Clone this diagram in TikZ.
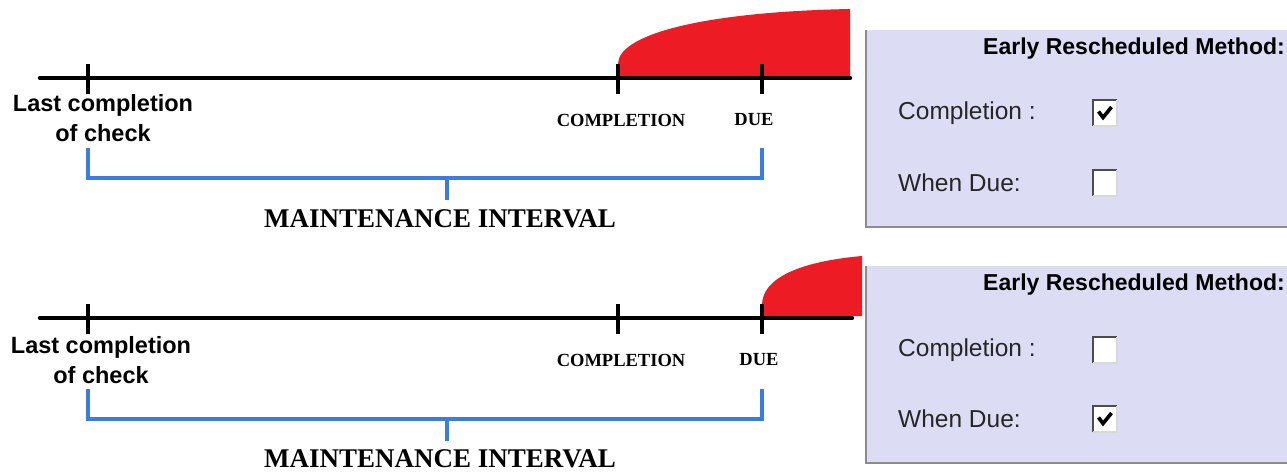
\documentclass[tikz,border=0pt]{standalone}
\usepackage{fontspec}
\setmainfont{Liberation Serif}
\setsansfont{Liberation Sans}
\definecolor{redfill}{HTML}{ED1C24}
\definecolor{bracketblue}{HTML}{3C7BE0}
\definecolor{panelfill}{HTML}{DCDCF4}
\definecolor{panelborder}{HTML}{8C8C8C}
\begin{document}
\begin{tikzpicture}[x=1pt,y=-1pt,
  timeline/.style={line width=4.5pt,line cap=round},
  tickmark/.style={line width=4.5pt},
  bracket/.style={draw=bracketblue,line width=3.4pt},
  lastlbl/.style={font=\sffamily\bfseries\fontsize{23.5}{30}\selectfont,align=center,inner sep=0pt},
  tlbl/.style={font=\rmfamily\bfseries\fontsize{18.5}{20}\selectfont,inner sep=0pt},
  intlbl/.style={font=\rmfamily\bfseries\fontsize{27}{30}\selectfont,inner sep=0pt},
  titlelbl/.style={font=\sffamily\bfseries\fontsize{23}{26}\selectfont,inner sep=0pt,anchor=east},
  optlbl/.style={font=\sffamily\fontsize{24.5}{26}\selectfont,inner sep=0pt,anchor=west,text=black!85},
  cbox/.style={draw=none,fill=white,minimum width=24pt,minimum height=26pt,inner sep=0pt}
]
\useasboundingbox (0,0) rectangle (1287,471);

% ---------- TOP ----------
\fill[redfill] (618,76) -- (618,64) .. controls (618,35) and (700,12) .. (850,9) -- (850,76) -- cycle;
\coordinate (t1a) at (40,78);
\coordinate (t1b) at (850,78);
\draw[timeline] (t1a) -- (t1b);
\foreach \n/\x in {l/88,c/618,d/762}{
  \coordinate (t1\n top) at (\x,64);
  \coordinate (t1\n bot) at (\x,94);
  \draw[tickmark] (t1\n top) -- (t1\n bot);
}
\node[lastlbl] (last1) at (103,118) {Last completion\\of check};
\node[tlbl] (comp1) at (621,120) {COMPLETION};
\node[tlbl] (due1) at (754,120) {DUE};
\coordinate (b1l) at (88,148);
\coordinate (b1r) at (762,148);
\coordinate (b1m) at (447,178);
\coordinate (b1mt) at (447,200);
\draw[bracket] (b1l) |- (b1m) -| (b1r);
\draw[bracket] (b1m) -- (b1mt);
\node[intlbl] (int1) at (440,219) {MAINTENANCE INTERVAL};

% panel top
\fill[panelfill] (865,30) rectangle (1287,228);
\draw[panelborder,line width=2pt] (866,30) -- (866,227) -- (1287,227);
\node[titlelbl] (title1) at (1285,49) {Early Rescheduled Method:};
\node[optlbl] (opt1a) at (898,113) {Completion :};
\node[optlbl] (opt1b) at (898,183) {When Due:};
\node[cbox] (cb1a) at (1105,113) {};
\node[cbox] (cb1b) at (1105,183) {};

% ---------- BOTTOM ----------
\fill[redfill] (762,316) -- (762,305) .. controls (762,280) and (795,262) .. (862,256) -- (862,316) -- cycle;
\coordinate (t2a) at (40,318);
\coordinate (t2b) at (852,318);
\draw[timeline] (t2a) -- (t2b);
\foreach \n/\x in {l/88,c/618,d/762}{
  \coordinate (t2\n top) at (\x,304);
  \coordinate (t2\n bot) at (\x,334);
  \draw[tickmark] (t2\n top) -- (t2\n bot);
}
\node[lastlbl] (last2) at (101,360) {Last completion\\of check};
\node[tlbl] (comp2) at (621,360) {COMPLETION};
\node[tlbl] (due2) at (759,360) {DUE};
\coordinate (b2l) at (88,389);
\coordinate (b2r) at (762,389);
\coordinate (b2m) at (447,419);
\coordinate (b2mt) at (447,441);
\draw[bracket] (b2l) |- (b2m) -| (b2r);
\draw[bracket] (b2m) -- (b2mt);
\node[intlbl] (int2) at (440,459) {MAINTENANCE INTERVAL};

% panel bottom
\fill[panelfill] (865,266) rectangle (1287,464);
\draw[panelborder,line width=2pt] (866,266) -- (866,463) -- (1287,463);
\node[titlelbl] (title2) at (1285,285) {Early Rescheduled Method:};
\node[optlbl] (opt2a) at (898,350) {Completion :};
\node[optlbl] (opt2b) at (898,419) {When Due:};
\node[cbox] (cb2a) at (1105,350) {};
\node[cbox] (cb2b) at (1105,419) {};

% checkbox bevels
\foreach \c in {cb1a,cb1b,cb2a,cb2b}{
  \draw[black!70,line width=2pt] (\c.south west) -- (\c.north west) -- (\c.north east);
  \draw[black!15,line width=1.5pt] (\c.north east) -- (\c.south east) -- (\c.south west);
}
% check marks
\foreach \c in {cb1a,cb2b}{
  \draw[black,line width=3.6pt,line join=miter] ([xshift=-6.5pt,yshift=1.5pt]\c.center) -- ([xshift=-2pt,yshift=-4.5pt]\c.center) -- ([xshift=6.5pt,yshift=6pt]\c.center);
}
\end{tikzpicture}
\end{document}
